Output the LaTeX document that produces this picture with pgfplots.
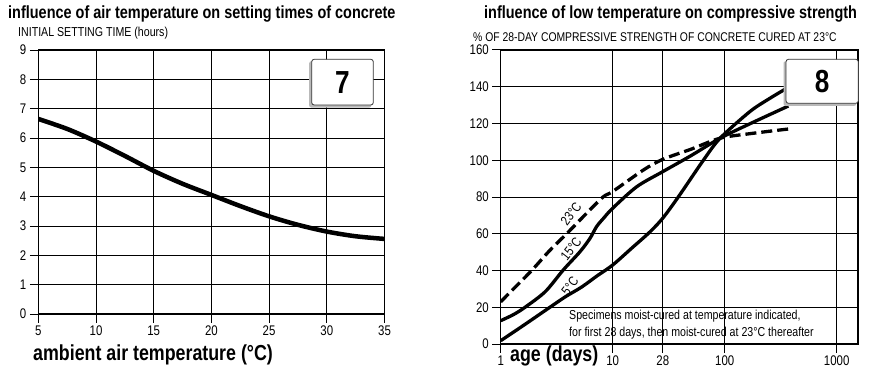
\documentclass[border=0pt]{standalone}
\usepackage{pgfplots}
\pgfplotsset{compat=1.18}
\usepackage{fontspec}
\setmainfont{Liberation Sans}[FakeStretch=0.82]
\begin{document}
\begin{tikzpicture}[x=1bp,y=1bp]
\useasboundingbox (0,0) rectangle (873,377);
\pgfplotsset{
  common/.style={
    scale only axis,
    grid=major,
    major grid style={black, line width=0.9bp},
    axis line style={black, line width=1.2bp},
    tick style={black, line width=1bp},
    tick align=outside,
    major tick length=8.5bp,
    ticklabel style={font=\fontsize{14}{14}\selectfont},
    /pgf/number format/assume math mode=true,
    clip=true,
  }
}
% ---------------- left chart ----------------
\begin{axis}[common,
  at={(38.3bp,63bp)}, anchor=south west,
  width=346.2bp, height=264bp,
  xmin=5, xmax=35, ymin=0, ymax=9,
  xtick={5,10,...,35}, ytick={0,1,...,9},
  axis x line=box, axis y line=box,
  xtick pos=bottom, ytick pos=left,
]
\addplot[black, line width=4.5bp, smooth] coordinates {
 (5,6.65) (7.5,6.31) (10,5.88) (12.5,5.39) (15,4.88) (17.5,4.44) (20,4.06)
 (22.5,3.68) (25,3.33) (27.5,3.04) (30,2.81) (32.5,2.65) (35,2.56)};
\end{axis}
% ---------------- right chart ----------------
\begin{axis}[common,
  at={(500.7bp,33bp)}, anchor=south west,
  width=357.3bp, height=294bp,
  xmode=log, xmin=1, xmax=1550, ymin=0, ymax=160,
  xtick={1,10,28,100,1000}, xticklabels={1,10,28,100,1000},
  minor xtick={},
  ytick={0,20,...,160},
  axis x line=box, axis y line=box,
  xtick pos=bottom, ytick pos=left,
]
\addplot[black, line width=3.3bp, dash pattern=on 11bp off 5bp, smooth, tension=0.5] coordinates {
 (1,23) (1.3,30) (1.89,40) (2.75,51) (3.88,60) (5.6,70) (8.2,80) (10,83)
 (18.8,94.7) (28,100.5) (50,106) (91,112) (170,114.5) (370,117)};
\addplot[black, line width=3.3bp, smooth, tension=0.5] coordinates {
 (1,12.7) (1.3,16) (1.65,20) (2.5,28.5) (3.62,40.3) (5.1,50.2) (6.27,57.5)
 (7.18,63.9) (8.3,68.5) (10,73.9) (16.4,85.6) (28,93.8) (50,102.5) (91,112)
 (170,120) (370,129.5)};
\addplot[black, line width=3.3bp, smooth, tension=0.5] coordinates {
 (1,1.8) (1.5,9) (2,14.2) (2.75,20) (3.8,25.8) (5.28,31) (7.3,37.2) (10,43)
 (15,52.5) (21.5,61) (28,68.5) (38.5,80) (64.5,100) (91,112) (168,126.5)
 (250,133.5) (370,139.7)};
\end{axis}
% ---------------- texts ----------------
\node[anchor=west, font=\fontsize{17.7}{17.7}\selectfont\bfseries, inner sep=0pt] at (8,363) {influence of air temperature on setting times of concrete};
\node[anchor=west, font=\fontsize{13}{13}\selectfont, inner sep=0pt] at (18,344) {INITIAL SETTING TIME (hours)};
\node[anchor=west, font=\fontsize{21.8}{21.8}\selectfont\bfseries, inner sep=0pt] at (33,22) {ambient air temperature (°C)};
\node[anchor=west, font=\fontsize{17.7}{17.7}\selectfont\bfseries, inner sep=0pt] at (484,363) {influence of low temperature on compressive strength};
\node[anchor=west, font=\fontsize{12.7}{12.7}\selectfont, inner sep=0pt] at (473,340) {\% OF 28-DAY COMPRESSIVE STRENGTH OF CONCRETE CURED AT 23°C};
\node[anchor=west, font=\fontsize{21.8}{21.8}\selectfont\bfseries, inner sep=0pt] at (510,21) {age (days)};
\node[anchor=west, font=\fontsize{13}{13}\selectfont, inner sep=0pt] at (569,61) {Specimens moist-cured at temperature indicated,};
\node[anchor=west, font=\fontsize{13}{13}\selectfont, inner sep=0pt] at (569,44) {for first 28 days, then moist-cured at 23°C thereafter};
\node[rotate=52, font=\fontsize{13.5}{13.5}\selectfont, inner sep=0pt] at (571,163) {23°C};
\node[rotate=52, font=\fontsize{13.5}{13.5}\selectfont, inner sep=0pt] at (571,128) {15°C};
\node[rotate=52, font=\fontsize{13.5}{13.5}\selectfont, inner sep=0pt] at (570,91) {5°C};
% ---------------- number boxes ----------------
\fill[gray!55, rounded corners=2bp] (309.2,269.5) rectangle (371.3,315.7);
\draw[black!80, line width=0.8bp, fill=white, rounded corners=2.5bp] (311.7,272) rectangle (373.3,317.7);
\node[font=\fontsize{32}{32}\selectfont\bfseries] at (342.5,294.8) {7};
\fill[gray!55, rounded corners=2bp] (783.5,271.2) rectangle (856.3,315.7);
\draw[black!80, line width=0.8bp, fill=white, rounded corners=2.5bp] (786,273.7) rectangle (858.3,317.7);
\node[font=\fontsize{32}{32}\selectfont\bfseries] at (822.1,295.7) {8};
\end{tikzpicture}
\end{document}
